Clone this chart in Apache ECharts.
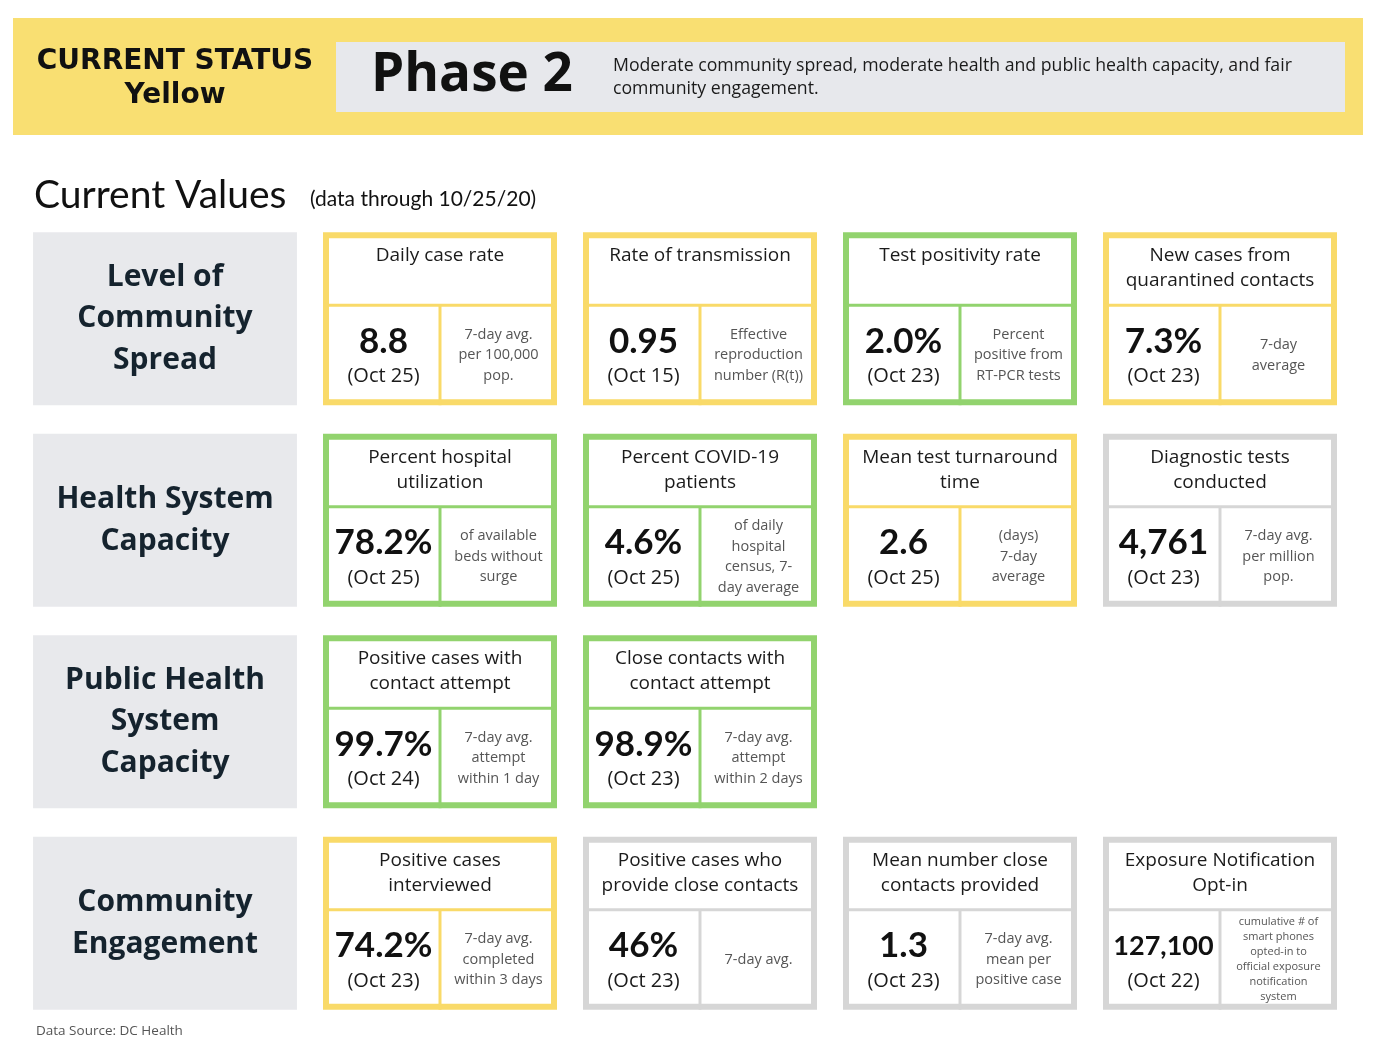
<!DOCTYPE html>
<html>
<head>
<meta charset="utf-8">
<script src="https://cdn.jsdelivr.net/npm/echarts@6/dist/echarts.min.js"></script>
<style>html,body{margin:0;padding:0;background:#fff;}#main{width:1376px;height:1048px;}</style>
</head>
<body>
<div id="main"></div>
<script>
// ---- data ----
const rowLabels = ['Level of\nCommunity\nSpread', 'Health System\nCapacity', 'Public Health\nSystem\nCapacity', 'Community\nEngagement'];
const colKeys = ['c1', 'c2', 'c3', 'c4'];
const cardTitles = [
  'Daily case rate', 'Rate of transmission', 'Test positivity rate', 'New cases from\nquarantined contacts',
  'Percent hospital\nutilization', 'Percent COVID-19\npatients', 'Mean test turnaround\ntime', 'Diagnostic tests\nconducted',
  'Positive cases with\ncontact attempt', 'Close contacts with\ncontact attempt',
  'Positive cases\ninterviewed', 'Positive cases who\nprovide close contacts', 'Mean number close\ncontacts provided', 'Exposure Notification\nOpt-in'
];
const cardValues = ['8.8', '0.95', '2.0%', '7.3%', '78.2%', '4.6%', '2.6', '4,761', '99.7%', '98.9%', '74.2%', '46%', '1.3', '127,100'];
const cardDates = ['(Oct 25)', '(Oct 15)', '(Oct 23)', '(Oct 23)', '(Oct 25)', '(Oct 25)', '(Oct 25)', '(Oct 23)', '(Oct 24)', '(Oct 23)', '(Oct 23)', '(Oct 23)', '(Oct 23)', '(Oct 22)'];
const cardNotes = [
  '7-day avg.\nper 100,000\npop.', 'Effective\nreproduction\nnumber (R(t))', 'Percent\npositive from\nRT-PCR tests', '7-day\naverage',
  'of available\nbeds without\nsurge', 'of daily\nhospital\ncensus, 7-\nday average', '(days)\n7-day\naverage', '7-day avg.\nper million\npop.',
  '7-day avg.\nattempt\nwithin 1 day', '7-day avg.\nattempt\nwithin 2 days',
  '7-day avg.\ncompleted\nwithin 3 days', '7-day avg.', '7-day avg.\nmean per\npositive case', 'cumulative # of\nsmart phones\nopted-in to\nofficial exposure\nnotification\nsystem'
];
const cardStatus = ['yellow', 'yellow', 'green', 'yellow', 'green', 'green', 'yellow', 'gray', 'green', 'green', 'yellow', 'gray', 'gray', 'gray'];
const cardRow = [0, 0, 0, 0, 1, 1, 1, 1, 2, 2, 3, 3, 3, 3];
const cardCol = [0, 1, 2, 3, 0, 1, 2, 3, 0, 1, 0, 1, 2, 3];

// ---- styles ----
const statusColor = { yellow: '#F9DA69', green: '#92D36E', gray: '#D6D6D6' };
const LATO = 'Lato, "Open Sans", sans-serif';
const OPEN = '"Open Sans", Lato, sans-serif';

const chart = echarts.init(document.getElementById('main'));

function renderCard(params, api) {
  const i = api.value(2);
  const c = api.coord([api.value(0), api.value(1)]);
  const band = api.size([1, 1]);
  const w = band[0] * 0.9;
  const h = band[1] * 0.858;
  const L = c[0] - w / 2, T = c[1] - h / 2;
  const headH = 73;
  const col = statusColor[cardStatus[i]];
  const leftCx = L + w / 4 + 2;
  const rightCx = c[0] + w / 4;
  const lowCy = T + headH + (h - headH) / 2;
  const val = cardValues[i];
  const valSize = val.length > 6 ? 27 : 35;
  const note = cardNotes[i];
  const nLines = note.split('\n').length;
  const noteSize = nLines > 4 ? 11 : 14.5;
  const noteLH = nLines > 4 ? 15 : 20.5;
  return {
    type: 'group',
    children: [
      { type: 'rect', shape: { x: L + 3, y: T + 3, width: w - 6, height: h - 6 }, style: { fill: '#fff', stroke: col, lineWidth: 6 } },
      { type: 'line', shape: { x1: L, y1: T + headH, x2: L + w, y2: T + headH }, style: { stroke: col, lineWidth: 3 } },
      { type: 'line', shape: { x1: c[0], y1: T + headH, x2: c[0], y2: T + h }, style: { stroke: col, lineWidth: 3 } },
      { type: 'text', style: { text: cardTitles[i], x: c[0], y: T + 11, textAlign: 'center', textVerticalAlign: 'top', fontSize: 19, lineHeight: 25, fontWeight: 500, fontFamily: OPEN, fill: '#1b1b1b' } },
      { type: 'text', style: { text: val, x: leftCx, y: T + 109, textAlign: 'center', textVerticalAlign: 'middle', fontSize: valSize, fontWeight: 'bold', fontFamily: LATO, fill: '#111' } },
      { type: 'text', style: { text: cardDates[i], x: leftCx, y: T + 144, textAlign: 'center', textVerticalAlign: 'middle', fontSize: 20, fontFamily: OPEN, fill: '#1b1b1b' } },
      { type: 'text', style: { text: note, x: rightCx, y: lowCy, textAlign: 'center', textVerticalAlign: 'middle', fontSize: noteSize, lineHeight: noteLH, fontFamily: OPEN, fill: '#555' } }
    ]
  };
}

function renderLabel(params, api) {
  const r = api.value(1);
  const c = api.coord([api.value(0), r]);
  const band = api.size([1, 1]);
  const w = band[0] * 0.91;
  const h = band[1] * 0.858;
  return {
    type: 'group',
    children: [
      { type: 'rect', shape: { x: c[0] - w / 2, y: c[1] - h / 2, width: w, height: h }, style: { fill: '#E8E9EC' } },
      { type: 'text', style: { text: rowLabels[r], x: c[0], y: c[1], textAlign: 'center', textVerticalAlign: 'middle', fontSize: 30, lineHeight: 41.5, fontWeight: 'bold', fontFamily: OPEN, fill: '#15232E' } }
    ]
  };
}

const cardData = cardTitles.map((t, i) => [cardCol[i], cardRow[i], i]);
const labelData = rowLabels.map((t, r) => [0, r]);

const hiddenAxis = { show: false };
chart.setOption({
  animation: false,
  backgroundColor: '#fff',
  grid: [
    { left: 310, right: 26, top: 218, bottom: 24 },
    { left: 20, width: 290, top: 218, bottom: 24 }
  ],
  xAxis: [
    { type: 'category', data: colKeys, gridIndex: 0, ...hiddenAxis },
    { type: 'category', data: ['label'], gridIndex: 1, ...hiddenAxis }
  ],
  yAxis: [
    { type: 'category', data: rowLabels, gridIndex: 0, inverse: true, ...hiddenAxis },
    { type: 'category', data: rowLabels, gridIndex: 1, inverse: true, ...hiddenAxis }
  ],
  graphic: [
    { type: 'rect', shape: { x: 13, y: 18, width: 1350, height: 117 }, style: { fill: '#F9DF72' }, silent: true },
    { type: 'rect', shape: { x: 336, y: 42, width: 1009, height: 70 }, style: { fill: '#E7E8EC' }, silent: true },
    { type: 'text', style: { text: 'CURRENT STATUS\nYellow', x: 175, y: 79, textAlign: 'center', textVerticalAlign: 'middle', fontSize: 28, lineHeight: 34, fontWeight: 'bold', fontFamily: '"DejaVu Sans", sans-serif', fill: '#111' } },
    { type: 'text', style: { text: 'Phase 2', x: 371, y: 76, textAlign: 'left', textVerticalAlign: 'middle', fontSize: 53, fontWeight: 'bold', fontFamily: OPEN, fill: '#111' } },
    { type: 'text', style: { text: 'Moderate community spread, moderate health and public health capacity, and fair\ncommunity engagement.', x: 613, y: 77, textAlign: 'left', textVerticalAlign: 'middle', fontSize: 17.7, lineHeight: 23, fontFamily: OPEN, fill: '#1b1b1b' } },
    { type: 'text', style: { text: 'Current Values', x: 34, y: 195, textAlign: 'left', textVerticalAlign: 'middle', fontSize: 39, fontFamily: LATO, fill: '#111' } },
    { type: 'text', style: { text: '(data through 10/25/20)', x: 310, y: 199, textAlign: 'left', textVerticalAlign: 'middle', fontSize: 21, fontFamily: LATO, fill: '#111' } },
    { type: 'text', style: { text: 'Data Source: DC Health', x: 36, y: 1031, textAlign: 'left', textVerticalAlign: 'middle', fontSize: 13.5, fontFamily: OPEN, fill: '#555' } }
  ],
  series: [
    { type: 'custom', name: 'metrics', xAxisIndex: 0, yAxisIndex: 0, renderItem: renderCard, data: cardData, silent: true },
    { type: 'custom', name: 'rows', xAxisIndex: 1, yAxisIndex: 1, renderItem: renderLabel, data: labelData, silent: true }
  ]
});
</script>
</body>
</html>
